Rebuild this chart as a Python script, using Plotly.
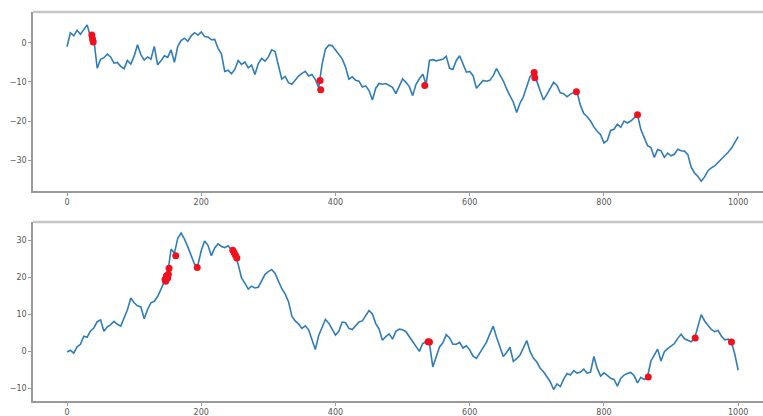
import plotly.graph_objects as go
from plotly.subplots import make_subplots

# step index of each sampled point (every 5th step of the walk)
steps = list(range(0, 1001, 5))

# first random walk
walk_a = [
    -1.0, 2.6, 1.8, 3.2, 2.2, 3.4, 4.6, 1.5, 0.8, -6.5,
    -4.2, -3.8, -2.9, -3.6, -5.2, -5.0, -6.0, -6.6, -4.5, -5.4,
    -3.4, -0.5, -3.0, -4.4, -3.6, -4.2, -0.9, -5.6, -4.6, -3.3,
    -3.7, -1.8, -5.0, -0.9, 0.6, 1.2, 0.4, 1.8, 2.6, 2.0,
    2.8, 1.6, 1.5, 0.8, 0.9, -1.4, -2.8, -7.3, -7.0, -7.9,
    -6.8, -4.5, -5.5, -4.9, -6.4, -5.7, -8.1, -5.3, -4.0, -4.7,
    -3.6, -1.8, -2.2, -5.8, -9.3, -8.6, -10.2, -10.6, -9.4, -8.5,
    -7.8, -7.3, -8.5, -8.1, -9.4, -11.5, -5.5, -1.6, -0.6, -0.7,
    -1.8, -3.0, -4.1, -6.2, -9.3, -8.7, -9.6, -9.8, -11.3, -11.0,
    -12.2, -14.6, -11.6, -10.4, -10.6, -10.4, -10.9, -11.4, -13.0, -11.3,
    -9.2, -10.1, -11.2, -13.5, -10.6, -9.2, -8.0, -10.6, -4.5, -4.3,
    -4.6, -4.4, -4.2, -3.4, -6.5, -6.8, -4.5, -3.3, -5.6, -7.5,
    -7.3, -8.4, -11.6, -10.5, -9.6, -9.8, -9.6, -8.4, -6.6, -8.2,
    -9.7, -11.8, -13.4, -15.2, -17.8, -15.4, -13.8, -11.2, -8.6, -7.8,
    -9.8, -12.3, -14.6, -13.2, -11.7, -10.1, -10.9, -12.8, -13.0, -13.8,
    -13.1, -12.7, -12.6, -16.0, -18.1, -18.9, -20.0, -21.5, -22.6, -23.5,
    -25.6, -25.0, -22.4, -22.1, -20.8, -21.6, -20.0, -20.5, -20.0, -19.1,
    -18.4, -22.2, -24.3, -26.3, -26.8, -29.3, -27.3, -27.6, -29.3, -28.2,
    -28.9, -28.5, -27.2, -27.6, -27.7, -28.6, -31.8, -33.3, -34.2, -35.4,
    -34.3, -32.7, -32.0, -31.5, -30.6, -29.8, -29.0, -28.0, -27.0, -25.3,
    -24.0,
]

# second random walk
walk_b = [
    -0.2, 0.3, -0.5, 1.2, 1.9, 4.1, 3.8, 5.5, 6.3, 8.0,
    8.5, 5.4, 6.6, 7.2, 8.1, 7.3, 6.8, 9.0, 11.2, 14.4,
    13.1, 12.3, 12.0, 8.8, 11.3, 13.1, 13.5, 14.8, 16.6, 18.8,
    21.0, 27.6, 26.5, 30.5, 31.9, 30.3, 28.2, 25.6, 23.5, 23.3,
    27.2, 29.8, 28.6, 25.8, 27.9, 29.0, 28.3, 28.0, 28.5, 27.4,
    26.0, 23.5, 19.8, 18.4, 16.8, 17.6, 17.1, 17.3, 19.2, 20.8,
    21.5, 22.1, 21.0, 18.8, 16.9, 15.5, 13.4, 9.5, 8.2, 7.4,
    6.2, 6.9, 5.8, 3.1, 0.5, 4.3, 6.5, 8.6, 7.6, 6.0,
    4.4, 5.4, 7.9, 7.7, 6.2, 5.9, 6.8, 7.9, 8.2, 9.6,
    11.0, 10.1, 7.5, 6.0, 3.0, 4.0, 4.7, 3.3, 5.4, 6.0,
    5.8, 5.3, 4.0, 2.8, 1.4, 0.0, 2.1, 2.6, 2.2, -4.2,
    -1.5, 1.2, 2.3, 4.5, 3.6, 1.9, 1.9, 2.4, 0.9, 1.5,
    0.4, -1.3, -1.9, -0.5, 0.9, 2.5, 4.7, 6.8, 3.8, 1.3,
    -1.4, -0.3, 1.1, -2.7, -2.0, -1.0, 1.1, 2.9, -0.1, -1.9,
    -2.9, -4.6, -5.5, -6.8, -8.2, -10.3, -8.8, -9.5, -7.5, -6.0,
    -6.4, -5.2, -5.9, -5.6, -4.8, -5.9, -5.6, -1.4, -4.6, -6.7,
    -5.8, -6.5, -7.3, -7.6, -9.4, -7.3, -6.4, -6.0, -5.7, -6.6,
    -8.5, -7.0, -7.6, -6.8, -2.6, -1.0, 0.6, -2.6, -0.1, 0.7,
    1.3, 2.1, 3.5, 4.6, 3.4, 3.0, 2.6, 3.5, 6.9, 9.9,
    8.2, 7.1, 5.9, 5.3, 5.6, 4.1, 3.1, 3.3, 2.5, -0.8,
    -5.1,
]

# flagged points on each walk
flags_a_x = [37, 38, 39, 377, 378, 533, 696, 697, 759, 850]
flags_a_y = [2.0, 1.0, 0.2, -9.6, -12.0, -10.9, -7.6, -8.9, -12.5, -18.4]

flags_b_x = [146, 147, 148, 150, 151, 152, 162, 194, 247, 249, 251, 253, 538, 540, 866, 936, 990]
flags_b_y = [19.4, 18.9, 20.3, 19.8, 20.8, 22.4, 25.8, 22.6, 27.3, 26.6, 25.9, 25.2, 2.6, 2.5, -6.9, 3.6, 2.5]

x_ticks = [0, 200, 400, 600, 800, 1000]
y_ticks_a = [0, -10, -20, -30]
y_ticks_b = [30, 20, 10, 0, -10]

LINE_BLUE = "#2f7db8"
FLAG_RED = "#f0101e"
SPINE = "#9a9a9a"
TEXT = "#555555"

fig = make_subplots(rows=2, cols=1, vertical_spacing=0.0)

for row, (walk, fx, fy) in enumerate(
    [(walk_a, flags_a_x, flags_a_y), (walk_b, flags_b_x, flags_b_y)], start=1
):
    fig.add_trace(
        go.Scatter(x=steps, y=walk, mode="lines",
                   line=dict(color=LINE_BLUE, width=1.6),
                   showlegend=False, hoverinfo="skip"),
        row=row, col=1,
    )
    fig.add_trace(
        go.Scatter(x=fx, y=fy, mode="markers",
                   marker=dict(color=FLAG_RED, size=7, line=dict(width=0)),
                   showlegend=False),
        row=row, col=1,
    )

axis_common = dict(
    showgrid=False, zeroline=False, showline=True, linecolor=SPINE, linewidth=1.5,
    ticks="outside", ticklen=3, tickwidth=1, tickcolor=SPINE,
    tickfont=dict(family="DejaVu Sans", size=8, color=TEXT),
)

fig.update_xaxes(range=[-50.7, 1037], tickvals=x_ticks, **axis_common)
fig.update_yaxes(**axis_common)

fig.update_layout(
    xaxis=dict(domain=[0, 1]),
    xaxis2=dict(domain=[0, 1]),
    yaxis=dict(domain=[0.5409, 0.9712], range=[-37.9, 7.9], tickvals=y_ticks_a),
    yaxis2=dict(domain=[0.0361, 0.4663], range=[-13.4, 34.9], tickvals=y_ticks_b),
    width=763, height=416,
    margin=dict(l=33, r=0, t=0, b=0),
    paper_bgcolor="white", plot_bgcolor="white",
)

# light top border on each panel
for xr, yr in [("x domain", "y domain"), ("x2 domain", "y2 domain")]:
    fig.add_shape(type="line", xref=xr, yref=yr, x0=0, x1=1, y0=1, y1=1,
                  line=dict(color="#c6c6c6", width=2.5))

fig.write_html("out.html")
